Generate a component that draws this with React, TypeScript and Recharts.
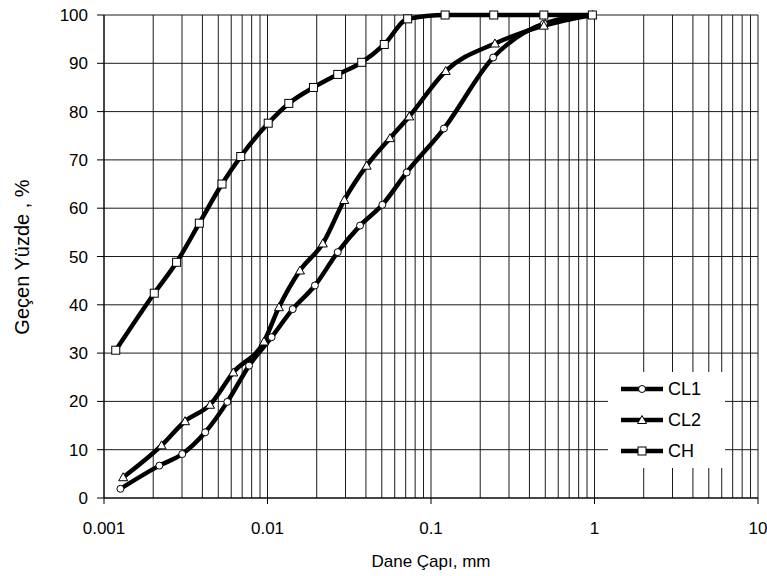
import React from 'react';
import { LineChart, Line, XAxis, YAxis, CartesianGrid, Legend } from 'recharts';

// grain size (mm) and percent passing
const cl1Size = [0.00126, 0.00218, 0.00301, 0.00416, 0.00568, 0.00771, 0.0106, 0.01426, 0.0195, 0.0269, 0.0368, 0.0504, 0.071, 0.12, 0.24, 0.49, 0.97];
const cl1Pass = [1.9, 6.7, 9.1, 13.6, 19.9, 27.4, 33.3, 39.1, 44.0, 50.9, 56.4, 60.7, 67.4, 76.5, 91.2, 98.2, 100];

const cl2Size = [0.00131, 0.00225, 0.00313, 0.00445, 0.00618, 0.00952, 0.01175, 0.0158, 0.0218, 0.0295, 0.0404, 0.0561, 0.0736, 0.123, 0.246, 0.49, 0.97];
const cl2Pass = [4.3, 10.9, 15.9, 19.3, 26.0, 32.4, 39.5, 47.1, 52.7, 61.7, 68.8, 74.5, 79.0, 88.4, 94.1, 97.8, 100];

const chSize = [0.00118, 0.00203, 0.00278, 0.00383, 0.00527, 0.00686, 0.0101, 0.0135, 0.0191, 0.0269, 0.0377, 0.0518, 0.072, 0.122, 0.242, 0.49, 0.97];
const chPass = [30.6, 42.4, 48.8, 56.9, 65.0, 70.7, 77.6, 81.7, 85.0, 87.7, 90.2, 93.9, 99.2, 100, 100, 100, 100];

const seriesOrder = ['CL1', 'CL2', 'CH'];
const decades = [0.001, 0.01, 0.1, 1, 10];
const decadeLabels = ['0.001', '0.01', '0.1', '1', '10'];
const yTicks = [0, 10, 20, 30, 40, 50, 60, 70, 80, 90, 100];

const xTicks: number[] = [];
decades.slice(0, 4).forEach((d) => {
  for (let m = 1; m <= 9; m++) xTicks.push(Number((d * m).toPrecision(3)));
});
xTicks.push(10);

const toRows = (xs: number[], ys: number[]) => xs.map((s, i) => ({ size: s, pass: ys[i] }));

const FONT = '"Liberation Sans", Arial, sans-serif';
const LW = 4.5;

const Circle = (p: any) => (
  <circle key={p.key} cx={p.cx} cy={p.cy} r={3.5} fill="#fff" stroke="#000" strokeWidth={1} />
);
const Triangle = (p: any) => (
  <path
    key={p.key}
    d={`M${p.cx},${p.cy - 4.5}L${p.cx + 4.5},${p.cy + 3.5}L${p.cx - 4.5},${p.cy + 3.5}Z`}
    fill="#fff"
    stroke="#000"
    strokeWidth={1}
  />
);
const Square = (p: any) => (
  <rect key={p.key} x={p.cx - 4} y={p.cy - 4} width={8} height={8} fill="#fff" stroke="#000" strokeWidth={1} />
);

const shapes: Record<string, (p: any) => React.ReactElement> = { CL1: Circle, CL2: Triangle, CH: Square };

const XTick = (props: any) => {
  const { x, y, payload } = props;
  const idx = decades.indexOf(payload.value);
  if (idx < 0) return <g />;
  return (
    <g>
      <line x1={x} x2={x} y1={y - 24} y2={y - 18} stroke="#000" />
      <text x={x} y={y} dy="0.71em" textAnchor="middle" fill="#000" fontSize={17} fontFamily={FONT}>
        {decadeLabels[idx]}
      </text>
    </g>
  );
};

const YLabel = () => (
  <text x={22} y={257} transform="rotate(-90 22 257)" textAnchor="middle" dominantBaseline="central" fontSize={20} fontFamily={FONT} fill="#000">
    Geçen Yüzde , %
  </text>
);

const XLabel = () => (
  <text x={431} y={561} textAnchor="middle" dominantBaseline="central" fontSize={17} fontFamily={FONT} fill="#000">
    Dane Çapı, mm
  </text>
);

const LegendBox = () => (
  <svg width={117} height={96} style={{ display: 'block', background: '#fff' }}>
    {seriesOrder.map((name, i) => {
      const cy = 17 + i * 31;
      const Shape = shapes[name];
      return (
        <g key={name}>
          <line x1={13} x2={55} y1={cy} y2={cy} stroke="#000" strokeWidth={LW} />
          <Shape cx={34} cy={cy} />
          <text x={60} y={cy} dominantBaseline="central" fontSize={18} fontFamily={FONT} fill="#000">
            {name}
          </text>
        </g>
      );
    })}
  </svg>
);

export default function App() {
  return (
    <div style={{ position: 'absolute', left: 0, top: 0, background: '#fff' }}>
      <LineChart width={767} height={576} margin={{ top: 15, right: 9, bottom: 18, left: 0 }} style={{ fontFamily: FONT }}>
        <CartesianGrid stroke="#1a1a1a" strokeWidth={1} />
        <XAxis
          type="number"
          dataKey="size"
          scale="log"
          domain={[0.001, 10]}
          allowDataOverflow
          ticks={xTicks}
          interval={0}
          tick={<XTick />}
          tickLine={false}
          tickSize={6}
          tickMargin={18}
          height={60}
          axisLine={{ stroke: '#000' }}
          label={<XLabel />}
        />
        <YAxis
          type="number"
          domain={[0, 100]}
          ticks={yTicks}
          interval={0}
          width={104}
          tickSize={7}
          tickMargin={9}
          tick={{ fill: '#000', fontSize: 17, fontFamily: FONT }}
          tickLine={{ stroke: '#000' }}
          axisLine={{ stroke: '#000' }}
          label={<YLabel />}
        />
        <Legend
          layout="horizontal"
          verticalAlign="middle"
          align="center"
          content={<LegendBox />}
          wrapperStyle={{ left: 608, top: 372, width: 117, height: 96 }}
        />
        <Line name="CL1" data={toRows(cl1Size, cl1Pass)} dataKey="pass" type="monotone" stroke="#000" strokeWidth={LW} dot={Circle} activeDot={false} isAnimationActive={false} />
        <Line name="CL2" data={toRows(cl2Size, cl2Pass)} dataKey="pass" type="monotone" stroke="#000" strokeWidth={LW} dot={Triangle} activeDot={false} isAnimationActive={false} />
        <Line name="CH" data={toRows(chSize, chPass)} dataKey="pass" type="monotone" stroke="#000" strokeWidth={LW} dot={Square} activeDot={false} isAnimationActive={false} />
      </LineChart>
    </div>
  );
}
